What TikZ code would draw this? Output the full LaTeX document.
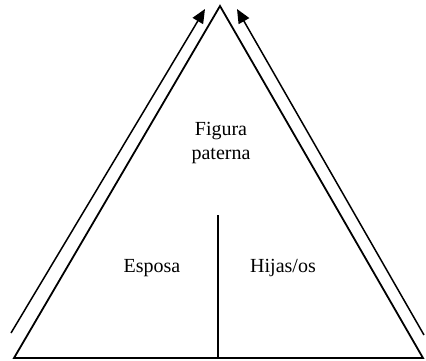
\documentclass[tikz,border=0pt]{standalone}
\usepackage{fontspec}
\setmainfont{Liberation Serif}
\usetikzlibrary{arrows.meta}
\begin{document}
\begin{tikzpicture}[x=1pt,y=-1pt,
  edge/.style={line width=1.8pt,black},
  flow/.style={line width=1.5pt,black,-{Triangle[length=14pt,width=12pt]}},
  lbl/.style={font=\fontsize{20}{24}\selectfont,align=center,inner sep=0pt}]
\useasboundingbox (0,0) rectangle (426,360);
\coordinate (apex) at (220,6);
\coordinate (bl) at (14,358);
\coordinate (br) at (423,358);
\coordinate (vtop) at (218,215);
\coordinate (vbot) at (218,358);
\coordinate (la) at (11,333);
\coordinate (lb) at (205,9);
\coordinate (ra) at (424,335);
\coordinate (rb) at (237,9);
\draw[edge,line join=miter] (bl) -- (apex) -- (br) -- cycle;
\draw[edge] (vtop) -- (vbot);
\draw[flow] (la) -- (lb);
\draw[flow] (ra) -- (rb);
\node[lbl] (fig) at (221,143) {Figura\\paterna};
\node[lbl] (esp) at (152,268) {Esposa};
\node[lbl] (hij) at (283,268) {Hijas/os};
\end{tikzpicture}
\end{document}
